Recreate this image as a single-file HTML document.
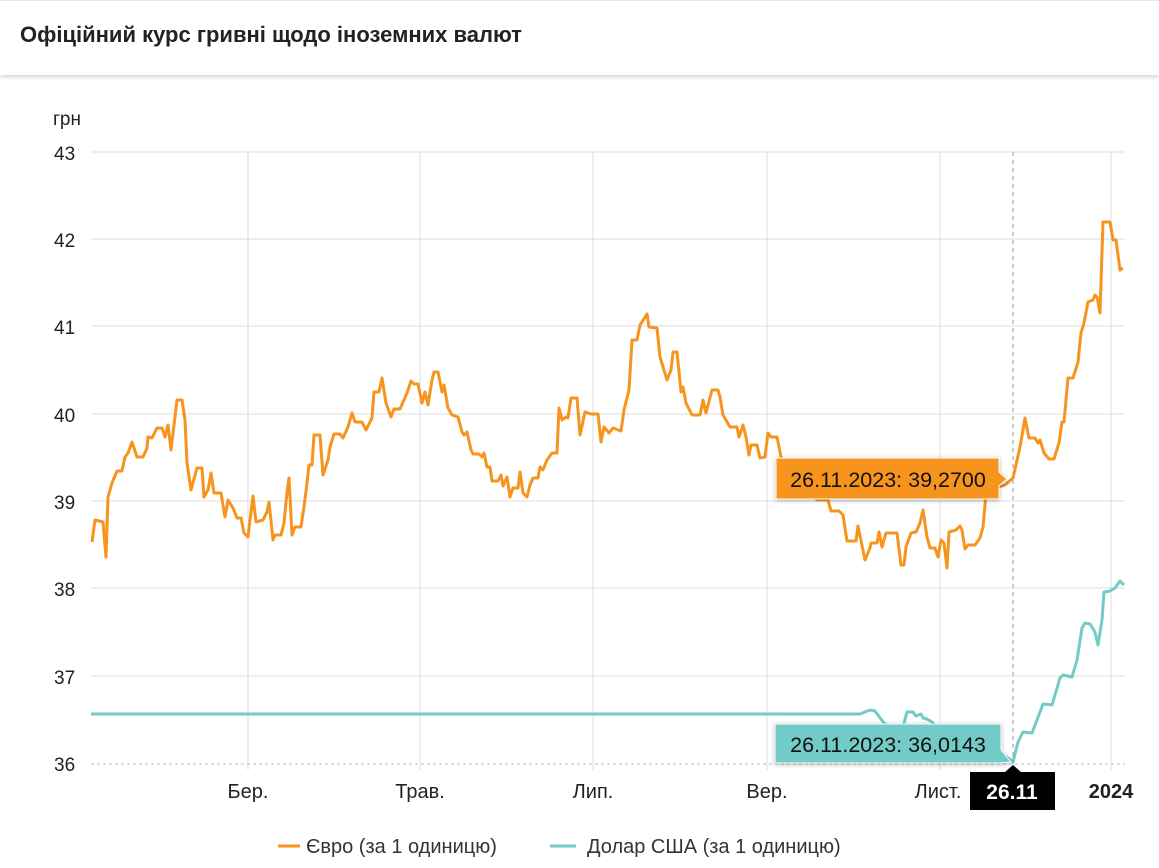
<!DOCTYPE html>
<html><head><meta charset="utf-8"><style>
body{margin:0;width:1159px;height:868px;background:#fff;font-family:"Liberation Sans",sans-serif;overflow:hidden;position:relative}
.hdr{position:absolute;left:0;top:0;width:1159px;height:74px;border-top:1px solid #e6e6e6;box-shadow:0 2px 4px rgba(0,0,0,.18);background:#fff}
.hdr div{position:absolute;left:20px;top:21px;font-size:22px;font-weight:bold;color:#222}
</style></head><body>
<div class="hdr"><div>Офіційний курс гривні щодо іноземних валют</div></div>
<svg width="1159" height="868" style="position:absolute;left:0;top:0" font-family="Liberation Sans, sans-serif">
<g stroke="#dcdcdc" stroke-width="1">
<line x1="91" y1="152" x2="1125" y2="152"/><line x1="91" y1="239" x2="1125" y2="239"/><line x1="91" y1="326" x2="1125" y2="326"/><line x1="91" y1="414" x2="1125" y2="414"/><line x1="91" y1="501" x2="1125" y2="501"/><line x1="91" y1="588" x2="1125" y2="588"/><line x1="91" y1="676" x2="1125" y2="676"/>
<line x1="248" y1="152" x2="248" y2="770"/><line x1="420" y1="152" x2="420" y2="770"/><line x1="593" y1="152" x2="593" y2="770"/><line x1="767" y1="152" x2="767" y2="770"/><line x1="940" y1="152" x2="940" y2="770"/><line x1="1111" y1="152" x2="1111" y2="770"/>
</g>
<line x1="91" y1="764" x2="1125" y2="764" stroke="#bbb" stroke-dasharray="3,3"/>
<line x1="1013" y1="152" x2="1013" y2="764" stroke="#999" stroke-dasharray="4,4"/>
<g font-size="19" fill="#222">
<text x="53" y="125">грн</text>
<text x="54" y="160">43</text><text x="54" y="247">42</text><text x="54" y="334">41</text><text x="54" y="422">40</text><text x="54" y="509">39</text><text x="54" y="596">38</text><text x="54" y="684">37</text><text x="54" y="771">36</text>
</g>
<g font-size="20" fill="#222">
<text x="248" y="798" text-anchor="middle">Бер.</text><text x="420" y="798" text-anchor="middle">Трав.</text><text x="593" y="798" text-anchor="middle">Лип.</text><text x="767" y="798" text-anchor="middle">Вер.</text><text x="938" y="798" text-anchor="middle">Лист.</text><text x="1111" y="798" text-anchor="middle" font-weight="bold">2024</text>
</g>
<polyline fill="none" stroke="#72cbc6" stroke-width="3" stroke-linejoin="round" points="91,714 860,714 870,710 875,711 884,723 897,733 903,727 907,712 913,712 916,716 921,714 923,718 927,719 932,722 945,735 960,755 990,757 1000,752 1013,762 1018,742 1023,732 1032,733 1037,720 1043,704 1052,705 1060,678 1063,675 1072,677 1077,660 1082,628 1085,623 1090,624 1095,632 1098,645 1102,620 1104,592 1110,591 1115,588 1120,581 1124,585"/>
<polyline fill="none" stroke="#f7941d" stroke-width="3" stroke-linejoin="round" points="92,542 95,520 103,522 106,557 108,497 112,483 117,471 122,471 125,457 128,453 132,442 137,457 143,457 147,448 148,437 152,438 157,428 162,428 165,437 168,425 171,450 177,400 182,400 185,420 187,463 191,490 197,468 202,468 204,497 208,490 211,473 214,493 221,493 225,517 228,500 233,508 237,518 241,518 244,533 248,537 250,520 253,496 256,522 263,520 267,512 269,502 273,540 275,535 281,535 284,523 287,492 289,478 292,535 295,527 301,527 304,507 307,483 309,465 312,465 314,435 320,435 323,475 328,460 330,447 334,434 340,434 343,438 348,427 352,413 355,422 362,422 366,430 372,418 374,392 379,392 382,378 386,403 391,417 394,409 400,409 407,393 411,381 414,384 418,384 422,403 425,392 428,405 432,380 434,372 438,372 442,392 444,385 448,408 452,415 458,417 462,432 464,435 467,432 471,450 473,454 479,454 482,457 484,453 487,467 490,467 492,481 498,481 501,475 503,486 507,477 510,497 513,488 518,488 520,472 523,493 527,497 530,485 533,478 538,478 540,467 543,470 547,460 552,453 557,453 559,408 562,420 566,417 568,418 571,398 577,398 580,435 585,412 591,414 598,414 601,442 604,427 609,433 613,428 621,431 624,410 629,390 632,340 637,340 640,325 647,314 649,327 657,328 660,357 667,380 671,370 673,352 677,352 681,392 683,387 686,403 692,415 700,415 703,400 706,413 712,390 718,390 720,397 723,415 730,427 737,427 739,437 743,425 746,437 749,455 751,445 757,445 760,458 765,457 768,433 771,437 777,437 781,457 790,470 800,480 810,495 818,500 821,500 828,500 831,511 839,511 843,515 847,541 856,541 858,526 865,560 870,548 871,543 877,543 879,532 882,547 886,533 897,533 901,565 904,565 906,547 911,533 916,532 920,523 923,510 927,537 930,548 935,548 938,557 941,540 944,543 947,568 949,532 956,530 960,526 962,530 965,549 968,545 975,545 980,538 983,527 986,493 995,488 1005,485 1013,478 1020,447 1025,418 1029,438 1035,438 1038,443 1040,440 1044,453 1049,459 1054,459 1059,443 1062,422 1064,422 1068,378 1073,378 1078,362 1081,333 1084,323 1088,302 1093,300 1095,295 1097,297 1100,313 1103,222 1110,222 1113,240 1116,240 1120,270 1123,268"/>
<g filter="drop-shadow(0 1px 2px rgba(0,0,0,.3))">
<path d="M776,458 H999 V472 L1007,479 L999,486 V499 H776 Z" fill="#f7941d" stroke="#fff" stroke-width="1"/>
<path d="M775,724 H1001 V750 L1011,762 L999,763 H775 Z" fill="#72cbc6" stroke="#fff" stroke-width="1"/>
</g>
<text x="888" y="487" font-size="21.5" text-anchor="middle" fill="#111">26.11.2023: 39,2700</text>
<text x="888" y="752" font-size="21.5" text-anchor="middle" fill="#111">26.11.2023: 36,0143</text>
<path d="M970,772 H1005 L1013,765 L1021,772 H1055 V810 H970 Z" fill="#000"/>
<text x="1012" y="799" font-size="21" font-weight="bold" text-anchor="middle" fill="#fff">26.11</text>
<line x1="278" y1="846" x2="300" y2="846" stroke="#f7941d" stroke-width="3"/>
<text x="306" y="853" font-size="20" fill="#333">Євро (за 1 одиницю)</text>
<line x1="550" y1="846" x2="576" y2="846" stroke="#72cbc6" stroke-width="3"/>
<text x="587" y="853" font-size="20" fill="#333">Долар США (за 1 одиницю)</text>
</svg>
</body></html>
